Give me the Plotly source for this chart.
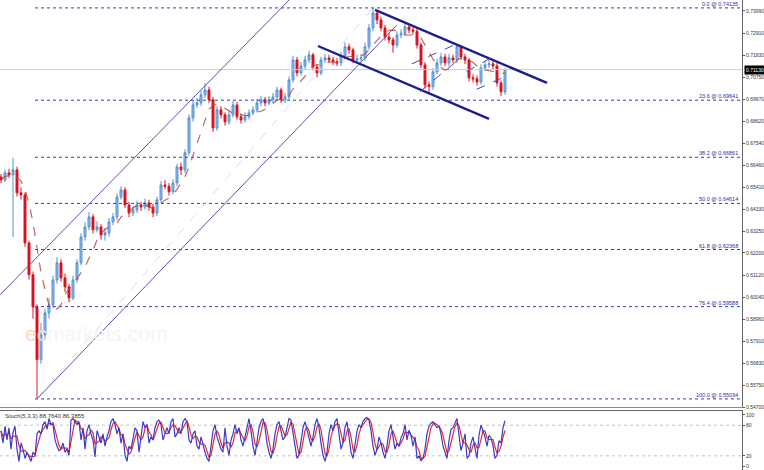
import pandas as pd
import plotly.graph_objects as go

# ---------------- data ----------------
close = [
    0.6576, 0.6610, 0.6600, 0.6625, 0.6513, 0.6503, 0.6269, 0.6114, 0.5957, 0.5700,
    0.5821, 0.5928, 0.5967, 0.6089, 0.6172, 0.6099, 0.6055, 0.6001, 0.6089, 0.6172,
    0.6298, 0.6347, 0.6396, 0.6333, 0.6347, 0.6308, 0.6318, 0.6371, 0.6396, 0.6493,
    0.6527, 0.6454, 0.6415, 0.6430, 0.6454, 0.6444, 0.6464, 0.6444, 0.6415, 0.6479,
    0.6551, 0.6545, 0.6518, 0.6561, 0.6639, 0.6625, 0.6708, 0.6878, 0.6941, 0.6951,
    0.6990, 0.7014, 0.6966, 0.6829, 0.6917, 0.6893, 0.6859, 0.6893, 0.6941, 0.6883,
    0.6868, 0.6883, 0.6902, 0.6917, 0.6951, 0.6966, 0.6951, 0.6966, 0.6980, 0.7014,
    0.6966, 0.6980, 0.7063, 0.7160, 0.7097, 0.7131, 0.7160, 0.7185, 0.7126, 0.7097,
    0.7160, 0.7170, 0.7160, 0.7151, 0.7146, 0.7180, 0.7224, 0.7209, 0.7160, 0.7165,
    0.7170, 0.7224, 0.7316, 0.7389, 0.7355, 0.7316, 0.7272, 0.7258, 0.7233, 0.7282,
    0.7290, 0.7321, 0.7306, 0.7300, 0.7233, 0.7136, 0.7039, 0.7030, 0.7102, 0.7146,
    0.7175, 0.7146, 0.7170, 0.7160, 0.7224, 0.7175, 0.7160, 0.7073, 0.7068, 0.7053,
    0.7121, 0.7136, 0.7141, 0.7131, 0.7048, 0.7005, 0.7113]
first_open = 0.6590
high = [
    0.6605, 0.6625, 0.6630, 0.6683, 0.6640, 0.6540, 0.6515, 0.6280, 0.6130, 0.5970,
    0.5880, 0.5950, 0.6000, 0.6110, 0.6200, 0.6190, 0.6120, 0.6070, 0.6110, 0.6190,
    0.6315, 0.6370, 0.6420, 0.6410, 0.6375, 0.6360, 0.6340, 0.6390, 0.6415, 0.6510,
    0.6545, 0.6540, 0.6470, 0.6450, 0.6475, 0.6470, 0.6485, 0.6480, 0.6460, 0.6495,
    0.6570, 0.6575, 0.6560, 0.6580, 0.6655, 0.6660, 0.6725, 0.6895, 0.6960, 0.6975,
    0.7010, 0.7048, 0.7030, 0.6980, 0.6935, 0.6935, 0.6905, 0.6915, 0.6960, 0.6955,
    0.6900, 0.6905, 0.6920, 0.6935, 0.6970, 0.6985, 0.6980, 0.6985, 0.7000, 0.7030,
    0.7025, 0.7000, 0.7080, 0.7180, 0.7175, 0.7150, 0.7180, 0.7205, 0.7195, 0.7140,
    0.7175, 0.7190, 0.7185, 0.7175, 0.7170, 0.7200, 0.7245, 0.7240, 0.7220, 0.7185,
    0.7190, 0.7245, 0.7335, 0.7414, 0.7400, 0.7370, 0.7330, 0.7290, 0.7270, 0.7300,
    0.7310, 0.7340, 0.7335, 0.7325, 0.7315, 0.7245, 0.7150, 0.7055, 0.7120, 0.7165,
    0.7195, 0.7190, 0.7190, 0.7185, 0.7233, 0.7230, 0.7190, 0.7170, 0.7090, 0.7085,
    0.7140, 0.7155, 0.7160, 0.7155, 0.7145, 0.7060, 0.7120]
low = [
    0.6560, 0.6565, 0.6585, 0.6298, 0.6495, 0.6480, 0.6250, 0.6090, 0.5900, 0.5509,
    0.5680, 0.5800, 0.5900, 0.5950, 0.6070, 0.6080, 0.6030, 0.5980, 0.5990, 0.6075,
    0.6160, 0.6280, 0.6330, 0.6315, 0.6320, 0.6285, 0.6280, 0.6300, 0.6355, 0.6380,
    0.6480, 0.6440, 0.6395, 0.6400, 0.6415, 0.6425, 0.6430, 0.6425, 0.6395, 0.6400,
    0.6465, 0.6530, 0.6500, 0.6505, 0.6545, 0.6600, 0.6610, 0.6695, 0.6860, 0.6925,
    0.6935, 0.6975, 0.6950, 0.6810, 0.6815, 0.6875, 0.6840, 0.6845, 0.6880, 0.6870,
    0.6850, 0.6855, 0.6870, 0.6890, 0.6905, 0.6935, 0.6935, 0.6940, 0.6950, 0.6965,
    0.6950, 0.6950, 0.6965, 0.7050, 0.7080, 0.7085, 0.7115, 0.7145, 0.7110, 0.7075,
    0.7085, 0.7145, 0.7145, 0.7135, 0.7130, 0.7130, 0.7165, 0.7190, 0.7145, 0.7140,
    0.7150, 0.7155, 0.7210, 0.7300, 0.7335, 0.7300, 0.7255, 0.7240, 0.7195, 0.7220,
    0.7265, 0.7275, 0.7290, 0.7285, 0.7215, 0.7120, 0.7020, 0.7000, 0.7015, 0.7090,
    0.7130, 0.7130, 0.7130, 0.7145, 0.7145, 0.7160, 0.7140, 0.7055, 0.7050, 0.7035,
    0.7040, 0.7105, 0.7120, 0.7115, 0.7030, 0.6985, 0.6990]
bars = list(range(len(close)))
open_ = [first_open] + close[:-1]

current_price = 0.71130

fib_pct = [0.0, 23.6, 38.2, 50.0, 61.8, 76.4, 100.0]
fib_price = [0.74135, 0.69641, 0.66861, 0.64614, 0.62368, 0.59588, 0.55094]
fib_start_bar = 8.5

axis_ticks = [0.73990, 0.72910, 0.71830, 0.70750, 0.69670, 0.68620, 0.67540,
              0.66460, 0.65410, 0.64330, 0.63250, 0.62200, 0.61120, 0.60040,
              0.58960, 0.57910, 0.56830, 0.55750, 0.54700]

# trend lines drawn by the analyst: (bar, price) end points
asc_upper = ([-0.25, 74.75], [0.6016, 0.7506])
asc_lower = ([9.0, 99.0], [0.55094, 0.7331])
fib_diag = ([9.0, 93.0], [0.55094, 0.74135])
desc_upper = ([93.5, 136.5], [0.7404, 0.7048])
desc_lower = ([79.25, 122.0], [0.7228, 0.6873])
dash_lines = [
    ([102.7, 113.9], [0.7141, 0.7238]),
    ([104.75, 115.2], [0.7006, 0.7175]),
    ([116.4, 123.1], [0.7104, 0.7177]),
    ([118.9, 126.4], [0.7017, 0.7082]),
]

# Stochastic %K, sampled every half bar
stoch_k = [
    69, 45, 78, 51, 75, 33, 66, 78, 33, 9,
    45, 33, 15, 27, 18, 9, 27, 21, 63, 69,
    63, 81, 87, 72, 93, 81, 81, 51, 39, 30,
    33, 45, 27, 33, 21, 90, 93, 87, 81, 87,
    51, 75, 33, 69, 81, 63, 51, 18, 69, 57,
    45, 63, 39, 57, 69, 87, 93, 81, 63, 75,
    45, 63, 21, 9, 39, 33, 57, 75, 69, 27,
    57, 87, 75, 81, 45, 57, 51, 75, 87, 90,
    81, 51, 63, 75, 63, 87, 93, 57, 63, 75,
    63, 87, 93, 87, 51, 45, 63, 69, 39, 33,
    57, 39, 27, 15, 9, 39, 69, 81, 57, 45,
    33, 27, 75, 39, 21, 51, 63, 81, 63, 75,
    51, 39, 57, 81, 93, 69, 39, 21, 51, 75,
    87, 93, 75, 45, 27, 15, 33, 63, 81, 87,
    69, 51, 57, 75, 93, 90, 63, 33, 15, 21,
    45, 75, 87, 69, 51, 39, 57, 81, 93, 75,
    45, 21, 9, 27, 63, 81, 69, 87, 93, 63,
    33, 45, 75, 87, 57, 27, 15, 39, 69, 81,
    75, 87, 93, 95, 90, 69, 39, 21, 33, 57,
    45, 27, 15, 39, 69, 81, 57, 33, 45, 39,
    55, 63, 81, 51, 70, 60, 39, 57, 15, 20,
    10, 15, 33, 63, 78, 84, 87, 80, 75, 78,
    63, 39, 25, 15, 50, 72, 75, 85, 93, 60,
    30, 45, 63, 15, 20, 45, 57, 35, 15, 60,
    80, 69, 57, 39, 60, 55, 40, 15, 21, 50,
    45, 75, 89]
stoch_x = [k * 0.5 for k in range(len(stoch_k))]
stoch_levels = [20, 80]
stoch_ticks = [0, 20, 80, 100]

# derived indicators
ma = pd.Series(close).rolling(7, min_periods=1).mean().tolist()
stoch_d = pd.Series(stoch_k).rolling(3, min_periods=1).mean().tolist()

X_RANGE = [-0.25, 185.25]

fig = go.Figure()

# Fibonacci levels
for p in fib_price:
    fig.add_trace(go.Scatter(x=[fib_start_bar, X_RANGE[1]], y=[p, p], mode="lines",
                             line=dict(color="#3a3ab4", width=1, dash="dot"),
                             hoverinfo="skip", showlegend=False))
# current price line
fig.add_trace(go.Scatter(x=X_RANGE, y=[current_price, current_price], mode="lines",
                         line=dict(color="#a9dbe6", width=1), hoverinfo="skip", showlegend=False))
# fib diagonal
fig.add_trace(go.Scatter(x=fib_diag[0], y=fib_diag[1], mode="lines",
                         line=dict(color="#dcdce6", width=1, dash="dash"),
                         hoverinfo="skip", showlegend=False))
# ascending channel
for ln in (asc_upper, asc_lower):
    fig.add_trace(go.Scatter(x=ln[0], y=ln[1], mode="lines",
                             line=dict(color="#5454b8", width=1),
                             hoverinfo="skip", showlegend=False))

# candles
fig.add_trace(go.Candlestick(
    x=bars, open=open_, high=high, low=low, close=close,
    increasing=dict(line=dict(color="#5590d2", width=1), fillcolor="#92bde8"),
    decreasing=dict(line=dict(color="#e0141e", width=1), fillcolor="#c8102a"),
    whiskerwidth=0, showlegend=False, xaxis="x", yaxis="y"))

# moving average
fig.add_trace(go.Scatter(x=bars, y=ma, mode="lines",
                         line=dict(color="#b0504a", width=1.2, dash="dash"),
                         opacity=0.85, hoverinfo="skip", showlegend=False))

# descending channel
for ln in (desc_upper, desc_lower):
    fig.add_trace(go.Scatter(x=ln[0], y=ln[1], mode="lines",
                             line=dict(color="#1c1c8e", width=2.4),
                             hoverinfo="skip", showlegend=False))
for ln in dash_lines:
    fig.add_trace(go.Scatter(x=ln[0], y=ln[1], mode="lines",
                             line=dict(color="#4646b4", width=1, dash="dash"),
                             hoverinfo="skip", showlegend=False))

# stochastic panel
for lv in stoch_levels:
    fig.add_trace(go.Scatter(x=X_RANGE, y=[lv, lv], mode="lines", xaxis="x2", yaxis="y2",
                             line=dict(color="#c4c4c4", width=1, dash="dot"),
                             hoverinfo="skip", showlegend=False))
fig.add_trace(go.Scatter(x=stoch_x, y=stoch_d, mode="lines", xaxis="x2", yaxis="y2",
                         line=dict(color="#e8282c", width=1.2), showlegend=False))
fig.add_trace(go.Scatter(x=stoch_x, y=stoch_k, mode="lines", xaxis="x2", yaxis="y2",
                         line=dict(color="#3c3cc8", width=1.2), showlegend=False))

LBL_FONT = "Liberation Sans"
annotations = []
for pct, p in zip(fib_pct, fib_price):
    annotations.append(dict(x=184.8, y=p, xref="x", yref="y", text=f"{pct:.1f} @ {p:.5f}",
                            showarrow=False, xanchor="right", yanchor="bottom", yshift=-1,
                            font=dict(size=5.5, color="#2c2ca8", family=LBL_FONT)))
annotations.append(dict(x=1.0, y=current_price, xref="paper", yref="y", text=f"{current_price:.5f}",
                        showarrow=False, xanchor="left", yanchor="middle", xshift=2,
                        bgcolor="#000000", borderpad=1,
                        font=dict(size=5, color="#ffffff", family=LBL_FONT)))
annotations.append(dict(x=0.004, y=98, xref="paper", yref="y2",
                        text=f"Stoch(5,3,3) {88.7640:.4f} {86.3855:.4f}",
                        showarrow=False, xanchor="left", yanchor="middle",
                        font=dict(size=6, color="#333333", family=LBL_FONT)))
annotations.append(dict(x=5.5, y=0.5830, xref="x", yref="y",
                        text="<span style='color:#fcd8be'>ec</span><span style='color:#f5f5f5'>markets.com</span>",
                        showarrow=False, xanchor="left", yanchor="middle",
                        font=dict(size=21, family=LBL_FONT)))

fig.update_layout(
    width=764, height=470,
    margin=dict(l=0, r=22, t=0, b=0, autoexpand=False),
    paper_bgcolor="#ffffff", plot_bgcolor="#ffffff",
    showlegend=False,
    annotations=annotations,
    xaxis=dict(domain=[0, 1], range=X_RANGE, anchor="y", showgrid=False, zeroline=False,
               showticklabels=False, rangeslider=dict(visible=False), automargin=False,
               showline=True, linecolor="#888888", linewidth=1, mirror=True, ticks=""),
    xaxis2=dict(domain=[0, 1], range=X_RANGE, anchor="y2", matches="x", showgrid=False,
                zeroline=False, showticklabels=False, showline=True, linecolor="#666666",
                linewidth=1, mirror=True, ticks="outside", ticklen=3, tickcolor="#666666",
                tick0=8, dtick=16, automargin=False),
    yaxis=dict(domain=[1 - 407 / 470, 1], range=[0.5470, 0.7452], side="right",
               showgrid=False, zeroline=False, tickmode="array", tickvals=axis_ticks,
               ticktext=[f"{v:.5f}" for v in axis_ticks], ticks="outside", ticklen=2,
               tickcolor="#555555", tickfont=dict(size=5, color="#333333", family=LBL_FONT),
               ticklabeloverflow="allow",
               showline=True, linecolor="#666666", linewidth=1, mirror=True, automargin=False),
    yaxis2=dict(domain=[0, 1 - 411 / 470], range=[-7.8, 107.8], side="right",
                showgrid=False, zeroline=False, tickmode="array", tickvals=stoch_ticks,
                ticktext=[str(v) for v in stoch_ticks], ticks="outside", ticklen=2,
                tickcolor="#555555", tickfont=dict(size=5, color="#333333", family=LBL_FONT),
                ticklabeloverflow="allow",
                showline=True, linecolor="#666666", linewidth=1, mirror=True, automargin=False),
)

fig.write_html("out.html",
               config={"displayModeBar": False},
               post_script="document.body.style.margin='0';document.body.style.overflow='hidden';")
